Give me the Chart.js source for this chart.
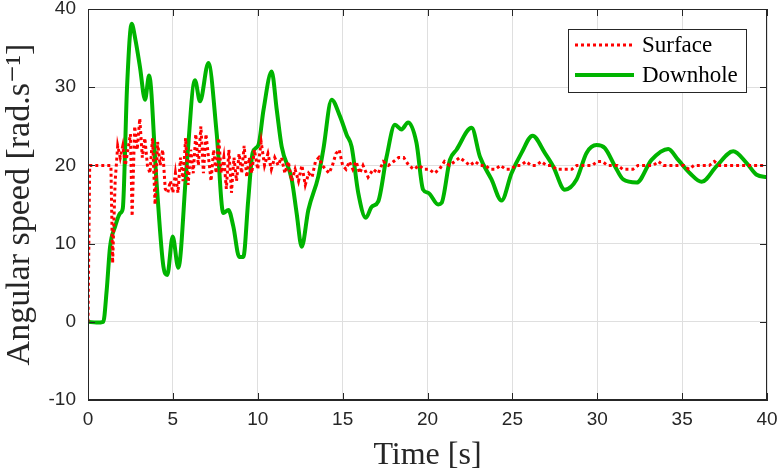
<!DOCTYPE html>
<html>
<head>
<meta charset="utf-8">
<script src="https://cdn.jsdelivr.net/npm/chart.js@4.4.1/dist/chart.umd.min.js"></script>
<style>
  html, body { margin: 0; padding: 0; background: #fff; }
  #wrap { width: 778px; height: 475px; }
</style>
</head>
<body>
<div id="wrap"><canvas id="speedChart" width="778" height="475"></canvas></div>
<script>
// Surface angular speed (red dotted)
const surfaceTime = [0, 0.1, 0.5, 1.0, 1.35, 1.45, 1.6, 1.75, 1.9, 2.05, 2.2, 2.35, 2.5, 2.6, 2.75, 2.9, 3.05, 3.2, 3.35, 3.5,
  3.65, 3.8, 3.95, 4.1, 4.25, 4.4, 4.55, 4.7, 4.85, 5.0, 5.15, 5.3, 5.45, 5.6, 5.75, 5.9, 6.05, 6.2, 6.35, 6.5,
  6.65, 6.8, 6.95, 7.1, 7.25, 7.4, 7.55, 7.7, 7.85, 8.0, 8.15, 8.3, 8.45, 8.6, 8.75, 8.9, 9.05, 9.2, 9.35, 9.5,
  9.65, 9.8, 10.0, 10.2, 10.4, 10.6, 10.8, 11.0, 11.2, 11.4, 11.6, 11.8, 12.0, 12.2, 12.4, 12.6, 12.8, 13.0, 13.2, 13.4,
  13.6, 13.8, 14.0, 14.2, 14.4, 14.6, 14.8, 15.0, 15.2, 15.4, 15.6, 15.8, 16.0, 16.2, 16.5, 16.8, 17.1, 17.4, 17.7, 18.0,
  18.3, 18.6, 18.9, 19.2, 19.5, 19.8, 20.1, 20.4, 20.7, 21.0, 21.3, 21.6, 21.9, 22.2, 22.5, 22.8, 23.1, 23.4, 23.7, 24.0,
  24.3, 24.6, 24.9, 25.2, 25.5, 25.8, 26.1, 26.4, 26.7, 27.0, 27.3, 27.6, 27.9, 28.2, 28.5, 28.8, 29.1, 29.4, 29.7, 30.0,
  30.3, 30.6, 30.9, 31.2, 31.5, 31.8, 32.1, 32.4, 32.7, 33.0, 33.3, 33.6, 33.9, 34.2, 34.5, 34.8, 35.1, 35.4, 35.7, 36.0,
  36.3, 36.6, 36.9, 37.2, 37.5, 37.8, 38.1, 38.4, 38.7, 39.0, 39.3, 39.6, 40.0];
const surfaceSpeed = [0, 20, 20, 20, 20, 7.5, 18, 22.5, 21, 22.5, 20, 22, 24, 13.5, 25, 22, 26, 21, 23.5, 20,
  19, 23.5, 15, 23, 20, 22, 17, 16.5, 18, 16.5, 19, 16.5, 21, 18, 23.5, 17.5, 22, 19, 24, 20,
  25, 19, 24, 21, 18, 22, 19, 23.5, 19, 21, 17, 22, 16.5, 21, 18, 21.5, 19, 22.5, 18.5, 21,
  19, 22, 19.5, 23, 20, 21.5, 19.5, 21, 20, 21, 19, 20.5, 18, 19.5, 18, 20, 17.5, 19, 18.5, 20.5,
  21, 20, 19.5, 19, 20, 21.5, 22, 20, 19.5, 20.5, 19.5, 20.5, 19, 20, 18.5, 19.5, 19, 20.5, 20, 20.5,
  21, 21, 20, 19.5, 20, 19.5, 19.5, 19, 19.5, 20.5, 20, 20.5, 21, 20.5, 20, 20.5, 20, 20, 19.5, 19.5,
  20, 19.5, 19.5, 20, 20, 20.5, 20, 20, 20.5, 20, 20, 19.5, 19.5, 19.5, 19.5, 20, 20, 20, 20, 20.5,
  20.5, 20, 20, 20, 19.5, 19.5, 19.5, 20, 20, 20, 20, 20.5, 20, 20, 20, 20, 20, 19.5, 20, 20,
  20, 20, 20.5, 20, 20, 20, 20, 20, 20, 20, 20, 20, 20];

// Downhole angular speed (green solid)
const downholeTime = [0, 0.5, 0.9, 1.1, 1.3, 1.6, 1.9, 2.05, 2.3, 2.57, 2.8, 3.06, 3.36, 3.6, 4.04, 4.44, 4.67, 4.99, 5.32, 5.81,
  6.3, 6.6, 7.09, 7.58, 7.97, 8.27, 8.56, 8.91, 9.15, 9.44, 9.7, 10.04, 10.34, 10.82, 11.12, 11.41, 12.0, 12.29, 12.59, 12.98,
  13.57, 13.86, 14.35, 14.84, 15.24, 15.53, 15.92, 16.37, 16.71, 17.1, 17.59, 18.08, 18.47, 18.86, 19.35, 19.74, 20.04, 20.63, 20.83, 21.32,
  21.71, 22.6, 23.09, 23.77, 24.36, 24.95, 25.54, 26.19, 26.91, 27.4, 28.09, 28.78, 29.37, 29.96, 30.45, 31.04, 31.53, 32.32, 33.2, 34.18,
  34.77, 35.46, 36.15, 37.03, 38.01, 38.8, 39.39, 40];
const downholeSpeed = [0, -0.1, 0, 4, 9.6, 12.2, 13.9, 14.5, 30, 38.1, 36, 32.6, 28.4, 31.5, 17.8, 7.1, 6.0, 10.9, 6.9, 19.9,
  30.9, 28.2, 33.1, 24.1, 13.9, 14.3, 12.2, 8.3, 8.3, 15.6, 21.6, 22.6, 27.1, 32.0, 27.1, 22.4, 18.2, 13.9, 9.6, 14.3,
  18.6, 22.0, 28.4, 26.3, 23.9, 22.4, 16.5, 13.3, 14.7, 15.4, 21.1, 25.2, 24.6, 25.5, 22.9, 16.9, 16.5, 15.0, 15.2, 20.7,
  22.0, 24.8, 21.1, 18.2, 15.5, 19.0, 21.6, 23.8, 21.6, 19.9, 16.9, 18.2, 21.6, 22.6, 22.2, 19.9, 18.2, 17.8, 20.7, 22.1,
  20.7, 19.0, 17.9, 19.9, 21.8, 20.3, 18.8, 18.5];

const xTicks = [0, 5, 10, 15, 20, 25, 30, 35, 40];
const yTicks = [-10, 0, 10, 20, 30, 40];

const axisColor = '#262626';
const serif = '"Liberation Serif", "DejaVu Serif", serif';
const sans = '"Liberation Sans", Arial, sans-serif';

function toPoints(xs, ys) {
  return xs.map((x, i) => ({ x: x, y: ys[i] }));
}

// frame on top/right, inward ticks, legend box
const matlabLook = {
  id: 'matlabLook',
  afterDraw(chart) {
    const ctx = chart.ctx;
    const a = chart.chartArea;
    const xs = chart.scales.x, ys = chart.scales.y;
    ctx.save();
    ctx.strokeStyle = axisColor;
    ctx.lineWidth = 1;
    ctx.strokeRect(a.left + 0.5, a.top + 0.5, a.right - a.left - 1, a.bottom - a.top - 1);
    ctx.beginPath();
    xTicks.forEach(v => {
      const px = Math.round(xs.getPixelForValue(v)) + 0.5;
      ctx.moveTo(px, a.bottom); ctx.lineTo(px, a.bottom - 7);
      ctx.moveTo(px, a.top); ctx.lineTo(px, a.top + 7);
    });
    yTicks.forEach(v => {
      const py = Math.round(ys.getPixelForValue(v)) + 0.5;
      ctx.moveTo(a.left, py); ctx.lineTo(a.left + 7, py);
      ctx.moveTo(a.right, py); ctx.lineTo(a.right - 7, py);
    });
    ctx.stroke();

    // legend
    const bx = 568, by = 29, bw = 178, bh = 63;
    ctx.fillStyle = '#fff';
    ctx.fillRect(bx, by, bw, bh);
    ctx.strokeRect(bx + 0.5, by + 0.5, bw, bh);
    const rows = [45, 75];
    chart.data.datasets.forEach((ds, i) => {
      ctx.beginPath();
      ctx.strokeStyle = ds.borderColor;
      ctx.lineWidth = ds.borderWidth;
      ctx.setLineDash(ds.borderDash || []);
      ctx.moveTo(575, rows[i]);
      ctx.lineTo(634, rows[i]);
      ctx.stroke();
      ctx.setLineDash([]);
      ctx.fillStyle = '#000';
      ctx.font = '23px ' + serif;
      ctx.textBaseline = 'middle';
      ctx.textAlign = 'left';
      ctx.fillText(ds.label, 642, rows[i] + 1);
    });
    ctx.restore();
  }
};

new Chart(document.getElementById('speedChart'), {
  type: 'line',
  data: {
    datasets: [{
      label: 'Surface',
      data: toPoints(surfaceTime, surfaceSpeed),
      borderColor: '#ff0000',
      borderWidth: 3,
      borderDash: [3, 3],
      borderCapStyle: 'butt',
      pointRadius: 0,
      tension: 0
    }, {
      label: 'Downhole',
      data: toPoints(downholeTime, downholeSpeed),
      borderColor: '#00b400',
      borderWidth: 4,
      pointRadius: 0,
      cubicInterpolationMode: 'monotone'
    }]
  },
  options: {
    responsive: false,
    animation: false,
    layout: { padding: { top: 9, right: 11, left: 0, bottom: 0 } },
    plugins: { legend: { display: false }, tooltip: { enabled: false } },
    scales: {
      x: {
        type: 'linear',
        min: 0, max: 40,
        afterBuildTicks: s => { s.ticks = xTicks.map(v => ({ value: v })); },
        afterFit: s => { s.height = 75; s.paddingLeft = 0; s.paddingRight = 0; },
        grid: { color: '#dfdfdf', drawTicks: false },
        border: { color: axisColor },
        ticks: { color: axisColor, padding: 8, maxRotation: 0, font: { family: sans, size: 19 } },
        title: { display: true, text: 'Time [s]', color: axisColor, padding: { top: 0, bottom: 0 }, font: { family: serif, size: 32 } }
      },
      y: {
        min: -10, max: 40,
        afterBuildTicks: s => { s.ticks = yTicks.map(v => ({ value: v })); },
        afterFit: s => { s.width = 88; s.paddingTop = 0; s.paddingBottom = 0; },
        grid: { color: '#dfdfdf', drawTicks: false },
        border: { color: axisColor },
        ticks: { color: axisColor, padding: 12, font: { family: sans, size: 19 } },
        title: { display: true, text: 'Angular speed [rad.s\u207B\u00B9]', color: axisColor, padding: { top: 0, bottom: 3 }, font: { family: serif, size: 34 } }
      }
    }
  },
  plugins: [matlabLook]
});
</script>
</body>
</html>
